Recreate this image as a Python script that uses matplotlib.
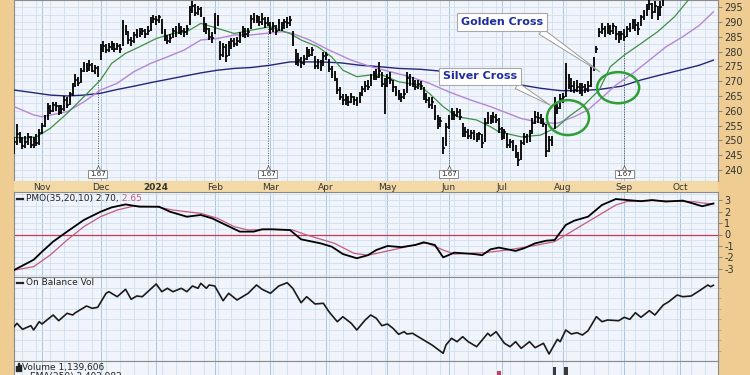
import matplotlib
matplotlib.use("Agg")
import matplotlib.pyplot as plt
from matplotlib.patches import Ellipse, Rectangle
import numpy as np

plt.rcParams["axes.unicode_minus"] = False

# daily bars, Oct 18 2023 .. Oct 17 2024 (trading-day index)
close = [
    249.5, 252.0, 250.5, 248.0, 249.5, 251.0, 248.5, 250.0, 249.0, 252.5,
    255.0, 257.5, 261.0, 260.0, 262.0, 261.5, 259.5, 260.5, 263.5, 262.0,
    265.5, 268.0, 270.5, 269.5, 273.5, 275.0, 274.0, 275.5, 273.5, 274.5,
    272.5, 281.0, 282.0, 280.5, 281.5, 282.5, 281.0, 282.0, 281.0, 288.5,
    287.0, 284.0, 283.5, 285.5, 286.0, 286.5, 287.0, 286.0, 287.0, 290.0,
    291.0, 290.5, 291.5, 288.0, 284.5, 283.5, 284.5, 287.0, 286.5, 288.0,
    287.0, 286.5, 287.5, 294.0, 295.5, 293.0, 294.5, 292.5, 288.0, 287.5,
    285.0, 284.5, 291.0, 290.0, 279.0, 281.5, 278.5, 282.0, 283.5, 282.5,
    283.5, 285.5, 287.0, 286.0, 286.5, 291.0, 290.5, 291.5, 290.0, 291.0,
    289.5, 290.5, 287.5, 288.5, 287.0, 289.5, 288.0, 290.0, 289.5, 290.5,
    283.0, 276.5, 277.0, 276.0, 277.5, 280.0, 279.0, 280.5, 275.0, 276.0,
    274.5, 278.5, 279.0, 274.0, 272.5, 271.5, 267.0, 264.5, 263.5, 264.0,
    263.0, 264.5, 263.5, 262.5, 265.5, 267.5, 268.5, 268.0, 271.0, 272.5,
    271.5, 273.5, 269.0, 268.5, 271.0, 270.5, 268.0, 266.0, 265.0, 264.5,
    265.5, 271.0, 270.0, 269.5, 268.0, 269.0, 268.5, 265.0, 263.5, 262.0,
    263.0, 258.0, 255.5, 256.5, 247.5, 254.5, 257.5, 259.0, 258.5, 259.5,
    258.0, 252.0, 253.0, 251.5, 252.5, 251.0, 250.5, 252.0, 249.0, 256.0,
    257.5, 256.5, 258.0, 257.0, 254.0, 251.0, 253.0, 248.5, 249.5, 248.0,
    245.0, 243.5, 249.0, 251.0, 250.0, 252.0, 256.0, 258.0, 257.5, 257.0,
    255.5, 246.5, 250.0, 249.5, 262.0, 261.0, 264.0, 264.5, 271.0, 268.5,
    268.5, 267.0, 268.0, 266.5, 268.0, 267.5, 268.5, 274.0, 277.0, 281.0,
    286.5, 287.5, 286.5, 288.0, 287.0, 288.5, 286.0, 285.5, 286.0, 285.0,
    287.5, 288.0, 290.0, 289.0, 287.5, 291.5, 292.5, 294.5, 296.0, 293.5,
    295.5, 292.5, 295.0, 298.0, 299.5, 301.0, 300.0, 302.5, 304.0, 303.0,
    305.5, 304.5, 306.0, 308.0, 307.0, 309.5, 311.0, 310.0, 312.5, 314.0,
    313.0, 315.5]
high = [
    251.0, 255.5, 253.0, 251.0, 251.5, 252.5, 251.5, 251.0, 252.0, 254.0,
    256.0, 258.5, 262.5, 262.0, 263.0, 263.0, 262.0, 262.0, 265.0, 264.5,
    266.5, 269.5, 272.5, 271.5, 274.5, 276.5, 276.0, 277.0, 276.0, 275.5,
    275.0, 282.5, 283.5, 282.5, 283.0, 283.5, 283.0, 283.0, 282.5, 290.5,
    289.0, 287.0, 285.0, 286.5, 287.5, 288.0, 288.0, 287.5, 288.5, 291.5,
    292.5, 292.0, 292.5, 291.0, 287.5, 285.5, 286.0, 288.0, 288.5, 289.5,
    288.5, 288.0, 289.0, 295.5, 297.0, 296.0, 295.5, 295.0, 291.5, 289.5,
    288.0, 286.5, 293.0, 292.5, 283.5, 283.0, 282.5, 283.5, 284.5, 284.5,
    285.0, 286.5, 288.5, 288.0, 288.0, 292.5, 293.0, 292.5, 292.0, 293.0,
    291.5, 291.5, 290.0, 290.0, 289.0, 291.0, 290.0, 291.0, 291.5, 292.0,
    287.0, 281.0, 279.5, 278.0, 279.0, 281.5, 281.0, 281.5, 278.5, 277.5,
    277.0, 280.0, 280.0, 277.5, 275.0, 273.5, 271.0, 268.0, 265.5, 265.5,
    265.0, 266.0, 265.0, 264.5, 266.5, 268.5, 270.0, 270.5, 272.5, 273.5,
    274.0, 276.5, 273.0, 271.0, 272.5, 273.0, 270.5, 268.5, 267.0, 266.0,
    267.5, 273.0, 272.5, 271.5, 270.5, 270.5, 270.0, 268.0, 266.0, 264.5,
    264.5, 262.0, 258.5, 258.0, 251.0, 256.0, 258.5, 261.0, 260.0, 261.0,
    260.5, 256.0, 254.5, 254.0, 253.5, 253.5, 252.5, 253.0, 252.0, 257.5,
    259.5, 258.5, 259.5, 259.0, 257.5, 254.5, 254.0, 252.5, 250.5, 250.0,
    248.5, 246.0, 250.0, 252.5, 252.0, 253.5, 257.5, 260.0, 259.5, 259.0,
    257.5, 255.5, 251.5, 251.5, 264.5, 263.0, 265.5, 266.0, 276.0, 272.5,
    271.0, 270.0, 270.5, 269.5, 269.5, 269.0, 270.0, 275.0, 278.0, 282.0,
    288.0, 289.5, 288.5, 289.5, 289.0, 289.5, 288.5, 287.0, 287.0, 287.5,
    288.5, 289.5, 291.0, 291.0, 290.0, 292.5, 294.0, 296.0, 297.5, 296.5,
    297.0, 295.5, 297.0, 299.5, 301.0, 302.5, 302.0, 304.0, 305.5, 305.0,
    307.0, 306.5, 307.5, 309.5, 309.0, 311.0, 312.5, 312.0, 314.0, 315.5,
    315.0, 317.0]
low = [
    245.5, 248.5, 249.0, 247.0, 247.5, 248.5, 247.5, 247.5, 248.0, 248.5,
    252.0, 254.5, 257.0, 259.0, 259.5, 260.0, 258.5, 259.0, 260.0, 261.0,
    262.0, 265.0, 268.0, 268.5, 269.5, 273.0, 273.0, 273.5, 273.0, 272.5,
    271.5, 277.0, 280.0, 279.5, 280.0, 280.5, 280.0, 280.5, 279.5, 282.0,
    285.5, 282.5, 282.0, 283.0, 284.5, 285.0, 285.5, 284.5, 285.5, 287.0,
    289.5, 289.0, 289.5, 286.0, 283.5, 282.5, 283.0, 284.5, 285.0, 286.0,
    285.5, 285.0, 285.5, 289.0, 293.0, 292.0, 292.5, 291.5, 286.5, 286.0,
    284.0, 283.0, 286.0, 288.5, 277.0, 278.0, 276.5, 278.5, 281.0, 281.5,
    282.0, 283.0, 285.0, 284.5, 285.0, 287.5, 289.5, 289.5, 288.5, 289.0,
    288.0, 288.5, 286.0, 286.5, 285.5, 287.0, 287.0, 287.5, 288.0, 288.5,
    282.0, 275.5, 275.0, 274.5, 275.5, 277.0, 278.0, 278.5, 274.0, 274.0,
    273.5, 275.0, 277.0, 273.0, 271.0, 270.0, 265.5, 263.5, 262.0, 262.0,
    261.5, 262.5, 262.0, 261.5, 262.5, 265.0, 266.5, 267.0, 268.5, 270.5,
    270.5, 271.0, 268.0, 259.0, 268.0, 269.0, 266.5, 265.0, 263.5, 263.0,
    264.0, 266.0, 268.5, 268.0, 267.0, 267.5, 267.0, 263.5, 262.5, 261.0,
    260.5, 257.0, 254.0, 254.5, 245.5, 248.0, 254.0, 257.0, 257.0, 258.0,
    257.0, 251.0, 251.0, 250.5, 250.5, 250.0, 249.5, 250.0, 247.5, 249.5,
    255.5, 255.5, 256.0, 256.0, 252.5, 250.0, 250.5, 247.5, 247.5, 246.5,
    244.0, 241.5, 243.5, 248.5, 249.0, 249.5, 252.0, 255.5, 256.0, 255.5,
    254.5, 244.5, 246.0, 248.0, 254.0, 259.0, 260.5, 262.5, 264.5, 267.5,
    266.5, 266.0, 266.5, 265.5, 265.0, 266.0, 266.5, 268.0, 273.5, 279.5,
    285.0, 286.0, 285.0, 286.0, 285.5, 286.0, 284.0, 283.0, 284.0, 283.5,
    285.0, 286.5, 287.5, 287.0, 285.5, 288.5, 290.5, 292.0, 294.0, 291.0,
    293.0, 290.5, 292.0, 295.5, 297.5, 298.5, 298.5, 300.0, 302.0, 301.5,
    303.0, 303.0, 304.0, 306.0, 305.5, 307.0, 309.0, 308.5, 310.0, 312.0,
    311.5, 313.5]

# moving averages (index, value)
ema20_idx = [0, 4, 8, 13, 19, 25, 31, 35, 40, 45, 51, 57, 62, 67, 71, 79, 85, 92, 99, 103,
             109, 114, 118, 123, 128, 132, 138, 145, 149, 154, 159, 166, 171, 174, 182, 189,
             195, 199, 204, 210, 214, 219, 225, 231, 237, 242, 246, 251]
ema20 = [251.0, 250.8, 251.2, 254.1, 259.1, 264.7, 270.4, 276.0, 279.4, 281.6, 284.4, 286.1,
         286.7, 289.5, 288.4, 286.1, 287.2, 288.4, 286.1, 283.9, 281.6, 278.2, 273.7, 271.5,
         272.1, 272.1, 269.8, 268.7, 265.9, 261.4, 258.0, 256.9, 254.6, 252.9, 251.2, 251.8,
         254.6, 258.0, 261.4, 267.0, 274.9, 278.8, 282.7, 286.7, 291.7, 297.4, 300.5, 303.5]
ema50_idx = [0, 7, 10, 19, 25, 31, 37, 43, 49, 55, 61, 67, 73, 79, 85, 96, 100, 106, 113, 121,
             128, 135, 142, 149, 156, 164, 171, 174, 182, 189, 195, 201, 206, 210, 216, 222,
             228, 234, 240, 246, 251]
ema50 = [261.4, 258.6, 258.0, 259.7, 263.0, 267.0, 269.3, 273.2, 276.0, 278.2, 280.5, 283.9,
         284.4, 285.6, 285.6, 286.7, 286.1, 283.9, 280.5, 277.1, 274.9, 273.2, 271.5, 269.3,
         266.4, 263.6, 261.4, 260.3, 257.4, 256.0, 255.8, 258.0, 260.3, 263.6, 268.7, 272.6,
         277.1, 281.6, 285.0, 288.9, 293.4]
ema200_idx = [0, 7, 13, 19, 25, 31, 37, 43, 49, 55, 61, 67, 73, 79, 85, 92, 99, 110, 117, 124,
              131, 138, 146, 153, 160, 167, 174, 182, 189, 196, 203, 210, 218, 225, 232, 239,
              246, 251]
ema200 = [267.0, 266.1, 265.3, 265.0, 265.3, 265.9, 267.2, 268.3, 269.5, 270.6, 271.7, 272.8,
          273.7, 274.3, 274.6, 275.4, 276.5, 276.5, 276.2, 275.4, 274.9, 274.3, 274.0, 273.4,
          272.1, 271.0, 269.8, 268.7, 267.6, 266.8, 266.8, 267.2, 268.3, 270.4, 272.1, 273.7,
          275.4, 277.1]

# PMO(35,20,10) and its signal line
pmo_idx = [0, 7, 10, 14, 19, 25, 31, 35, 40, 45, 52, 56, 62, 67, 71, 76, 81, 86, 89, 93, 99,
           103, 110, 114, 118, 123, 127, 130, 134, 139, 144, 147, 151, 154, 158, 165, 168, 171,
           174, 180, 183, 187, 191, 194, 198, 201, 206, 211, 216, 220, 225, 229, 234, 240, 243,
           247, 251]
pmo = [-3.09, -2.2, -1.5, -0.62, 0.25, 1.26, 1.98, 2.36, 2.62, 2.42, 2.42, 1.98, 1.55, 1.7,
       1.41, 0.83, 0.25, 0.25, 0.45, 0.45, 0.39, -0.42, -0.77, -1.06, -1.7, -2.07, -1.8, -1.35,
       -1.0, -1.1, -0.91, -0.68, -0.91, -1.99, -1.58, -1.7, -1.8, -1.29, -1.14, -1.43, -1.2,
       -0.77, -0.54, -0.48, 0.83, 1.2, 1.55, 2.57, 3.09, 3.0, 2.9, 3.0, 2.87, 2.95, 2.75, 2.46,
       2.70]
sig_idx = [0, 7, 13, 19, 25, 31, 37, 43, 51, 57, 67, 73, 79, 84, 91, 100, 105, 115, 122, 127,
           130, 141, 148, 154, 158, 169, 177, 186, 194, 199, 206, 211, 216, 220, 229, 237, 244,
           247, 251]
sig = [-3.1, -2.8, -1.78, -0.48, 0.68, 1.55, 2.13, 2.48, 2.42, 2.13, 1.84, 1.41, 0.68, 0.39,
       0.45, 0.39, -0.04, -0.77, -1.64, -1.8, -1.65, -1.06, -0.71, -1.35, -1.7, -1.58, -1.35,
       -1.0, -0.62, 0.1, 1.12, 1.84, 2.57, 2.87, 2.95, 2.9, 2.85, 2.75, 2.65]

# On Balance Volume (relative scale)
obv_idx = [0, 1, 3, 6, 7, 9, 10, 14, 16, 19, 21, 22, 26, 28, 30, 33, 34, 37, 40, 42, 44, 46,
           51, 53, 55, 57, 60, 62, 64, 66, 67, 69, 70, 72, 75, 77, 80, 84, 87, 89, 92, 95, 98,
           100, 103, 105, 108, 111, 113, 116, 118, 121, 123, 126, 128, 130, 132, 134, 136, 138,
           140, 141, 143, 147, 150, 154, 155, 157, 159, 161, 163, 166, 170, 171, 173, 176, 178,
           180, 182, 185, 187, 190, 192, 195, 196, 198, 200, 202, 204, 206, 209, 211, 213, 217,
           219, 221, 223, 225, 228, 230, 233, 235, 238, 240, 243, 246, 249, 250, 251]
obv = [34.3, 37.7, 31.7, 35.3, 31.0, 39.3, 37.0, 46.0, 40.3, 47.7, 46.0, 48.3, 55.0, 52.7,
       53.7, 67.7, 69.3, 64.3, 71.7, 61.7, 65.0, 64.3, 77.0, 69.3, 72.7, 69.3, 72.7, 69.3, 75.0,
       72.7, 77.7, 72.7, 76.0, 75.0, 60.3, 67.7, 61.0, 67.7, 76.0, 71.7, 67.7, 75.0, 78.3, 72.7,
       58.3, 64.3, 57.0, 57.7, 49.3, 39.3, 44.3, 37.7, 31.0, 41.0, 46.0, 42.7, 35.3, 37.0, 32.7,
       26.7, 29.3, 27.0, 27.7, 21.0, 16.0, 7.7, 16.0, 22.7, 19.3, 24.3, 19.3, 14.3, 27.7, 25.0,
       29.3, 17.7, 14.3, 19.3, 12.7, 19.3, 13.3, 17.7, 7.0, 21.7, 19.3, 31.0, 27.0, 28.3, 26.0,
       30.3, 44.3, 39.3, 41.0, 40.3, 43.7, 41.7, 48.3, 43.7, 50.3, 46.0, 56.0, 59.3, 66.0, 64.3,
       65.0, 70.3, 76.0, 74.3, 75.7]

# the only volume bars tall enough to show (millions)
vol_idx = [174, 194, 198]
vol = [10.0, 10.8, 10.8]
vol_up = [False, True, True]

div_idx = [30, 91, 156, 219]
month_idx = [10, 31, 51, 72, 92, 112, 134, 156, 175, 197, 219, 239]
month_lbl = ["Nov", "Dec", "2024", "Feb", "Mar", "Apr", "May", "Jun", "Jul", "Aug", "Sep", "Oct"]

TAN = "#EFCD92"
BG = "#F1F5FB"
GRID = "#CFE0EE"
MGRID = "#A9C6DD"

x = np.arange(len(close))
fig = plt.figure(figsize=(7.5, 3.75), dpi=100)
fig.patch.set_facecolor(TAN)

L, W = 14 / 750, 704 / 750


def fy(px):
    return 1 - px / 375


ax_p = fig.add_axes([L, fy(181), W, 181 / 375])
ax_s = fig.add_axes([L, fy(192), W, 11 / 375])
ax_m = fig.add_axes([L, fy(277), W, 85 / 375])
ax_o = fig.add_axes([L, fy(361), W, 84 / 375])
ax_v = fig.add_axes([L, fy(420), W, 59 / 375])

XL = (-0.05, 252.65)
for ax in (ax_p, ax_m, ax_o, ax_v):
    ax.set_facecolor(BG)
    ax.set_xlim(*XL)
    ax.set_xticks([])
    for s in ax.spines.values():
        s.set_color("#8A8A8A")
        s.set_linewidth(0.8)
    for w in range(3, len(close), 5):
        ax.axvline(w, color=GRID, lw=0.6, zorder=0)
    for m in month_idx:
        ax.axvline(m, color=MGRID, lw=0.7, zorder=0)

# price panel
ax_p.set_ylim(236.3, 297.4)
for v in np.arange(237.5, 297.5, 2.5):
    ax_p.axhline(v, color=GRID, lw=0.6, zorder=0)
ax_p.plot(ema200_idx, ema200, color="#25257A", lw=1.0, zorder=3)
ax_p.plot(ema50_idx, ema50, color="#B585D6", lw=1.0, zorder=3)
ax_p.plot(ema20_idx, ema20, color="#3F8F45", lw=0.9, zorder=3)
ax_p.vlines(x, low, high, color="black", lw=1.3, zorder=4)
ax_p.hlines(close, x, x + 0.6, color="black", lw=1.1, zorder=4)

for d in div_idx:
    ax_p.plot([d, d], [240.8, low[d] - 0.3], ls=(0, (1, 1.5)), color="#555555", lw=0.7, zorder=2)
    ax_p.plot(d, 240.7, marker="^", ms=3.5, mfc="white", mec="#666666", mew=0.6, zorder=5)
    ax_p.text(d, 238.7, "1.67", fontsize=5, ha="center", va="center", color="#222222", zorder=5,
              bbox=dict(boxstyle="square,pad=0.2", fc="white", ec="#777777", lw=0.6))

ax_p.add_patch(Ellipse((198.8, 257.7), 15.1, 11.8, fill=False, ec="#2E9E35", lw=1.8, zorder=6))
ax_p.add_patch(Ellipse((216.8, 267.8), 15.1, 10.5, fill=False, ec="#2E9E35", lw=1.8, zorder=6))

box = dict(boxstyle="square,pad=0.35", fc="white", ec="#A8A8A8", lw=0.8)
arrow = dict(arrowstyle="wedge,tail_width=0.6,shrink_factor=0.5", fc="white", ec="#9A9A9A",
             lw=0.7, relpos=(0.9, 0.0), shrinkA=0, shrinkB=0)
ax_p.annotate("Golden Cross", xy=(210.3, 273.1), xytext=(175.1, 289.9), fontsize=8,
              fontweight="bold", color="#1F2D9E", ha="center", va="center", bbox=box,
              arrowprops=arrow, zorder=7)
ax_p.annotate("Silver Cross", xy=(192.4, 261.9), xytext=(167.2, 271.6), fontsize=8,
              fontweight="bold", color="#1F2D9E", ha="center", va="center", bbox=box,
              arrowprops=arrow, zorder=7)

ax_p.yaxis.tick_right()
ax_p.set_yticks(np.arange(240, 300, 5))
ax_p.tick_params(axis="y", labelsize=7, labelcolor="#333333", length=3, width=0.6,
                 color="#777777", pad=1.5)

# date strip
ax_s.set_facecolor("#F3D9A5")
ax_s.set_xlim(*XL)
ax_s.set_ylim(0, 1)
ax_s.set_xticks([])
ax_s.set_yticks([])
for s in ax_s.spines.values():
    s.set_visible(False)
for m, lbl in zip(month_idx, month_lbl):
    ax_s.text(m, 0.45, lbl, fontsize=6.5, ha="center", va="center", color="#333333",
              fontweight="bold" if lbl == "2024" else "normal")

# PMO panel
ax_m.set_ylim(-3.7, 3.7)
for v in np.arange(-3.5, 3.6, 0.5):
    ax_m.axhline(v, color=GRID, lw=0.6, zorder=0)
ax_m.axhline(0, color="#C8365A", lw=0.9, zorder=2)
ax_m.plot(sig_idx, sig, color="#C45A82", lw=0.9, zorder=3)
ax_m.plot(pmo_idx, pmo, color="black", lw=1.3, zorder=4)
ax_m.yaxis.tick_right()
ax_m.set_yticks(range(-3, 4))
ax_m.tick_params(axis="y", labelsize=7, labelcolor="#333333", length=3, width=0.6,
                 color="#777777", pad=1.5)
ax_m.plot([0.004, 0.013], [0.918, 0.918], transform=ax_m.transAxes, color="#222222", lw=1.6)
t = ax_m.text(0.017, 0.918, "PMO(35,20,10) 2.70,", transform=ax_m.transAxes, fontsize=6.5,
              va="center", color="#222222")
ax_m.annotate(" 2.65", xy=(1, 0.5), xycoords=t, va="center", fontsize=6.5, color="#C45A82")

# OBV panel
ax_o.set_ylim(0, 84)
for v in np.arange(0, 84, 10.5):
    ax_o.axhline(v, color=GRID, lw=0.6, zorder=0)
ax_o.plot(obv_idx, obv, color="#1A1A1A", lw=1.2, zorder=3)
ax_o.yaxis.tick_right()
ax_o.set_yticks(np.arange(10.5, 84, 10.5))
ax_o.set_yticklabels([])
ax_o.tick_params(axis="y", length=2, width=0.5, color="#999999")
ax_o.plot([0.004, 0.013], [0.929, 0.929], transform=ax_o.transAxes, color="#222222", lw=1.6)
ax_o.text(0.017, 0.929, "On Balance Vol", transform=ax_o.transAxes, fontsize=6.5,
          va="center", color="#222222")

# volume panel (mostly below the frame)
ax_v.set_ylim(0, 12)
ax_v.set_yticks([])
ax_v.bar(vol_idx, vol, width=1.3, color=["#3A3A3A" if u else "#C0406A" for u in vol_up],
         zorder=3)
for bx, bh in zip([0.003, 0.0055, 0.008], [0.09, 0.13, 0.11]):
    ax_v.add_patch(Rectangle((bx, 0.83), 0.0018, bh, transform=ax_v.transAxes,
                             color="#222222", clip_on=False))
ax_v.text(0.012, 0.895, "Volume 1,139,606", transform=ax_v.transAxes, fontsize=6.5,
          va="center", color="#222222")
ax_v.plot([0.012, 0.02], [0.745, 0.745], transform=ax_v.transAxes, color="#222222", lw=1.4)
ax_v.text(0.023, 0.745, "EMA(250) 2,402,982", transform=ax_v.transAxes, fontsize=6.5,
          va="center", color="#222222")

fig.savefig("out.png", dpi=100, facecolor=TAN)
